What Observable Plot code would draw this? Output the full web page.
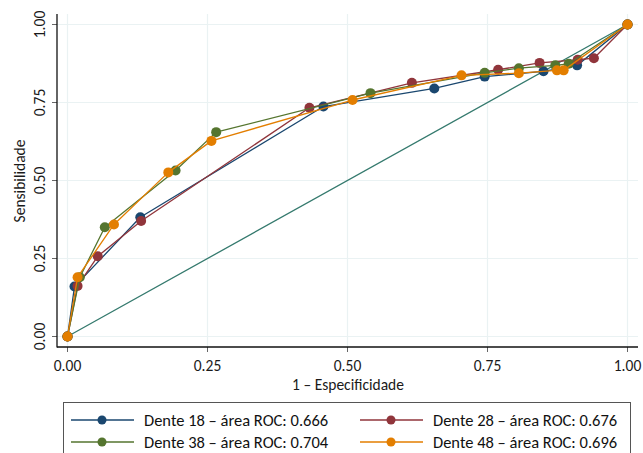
<!DOCTYPE html>
<html><head><meta charset="utf-8">
<script src="https://cdn.jsdelivr.net/npm/d3@7"></script>
<script src="https://cdn.jsdelivr.net/npm/@observablehq/plot@0.6"></script>
<style>
body{margin:0;background:#fff;font-family:Carlito,Lato,sans-serif;}
#wrap{position:relative;width:643px;height:453px;overflow:hidden;background:#fff;}
#legend{position:absolute;left:63px;top:402px;width:568px;height:62px;border:1px solid #555;box-sizing:border-box;}
.item{position:absolute;height:20px;font-size:16.5px;color:#111;white-space:nowrap;}
.item svg{position:absolute;left:0;top:0;}
.item span{position:absolute;left:73px;top:0px;line-height:20px;}
</style></head><body><div id="wrap"></div>
<script>
// ---- data ----
const seriesNames = [
  "Dente 18 – área ROC: 0.666",
  "Dente 28 – área ROC: 0.676",
  "Dente 38 – área ROC: 0.704",
  "Dente 48 – área ROC: 0.696"
];
const seriesColors = ["#1a476f", "#90353b", "#55752f", "#e37e00"];
const diagColor = "#357a6e";

const fpr18  = [0, 0.0125, 0.130, 0.457, 0.655, 0.745, 0.850, 0.910, 1];
const sens18 = [0, 0.160, 0.382, 0.737, 0.795, 0.833, 0.850, 0.869, 1];

const fpr28  = [0, 0.018, 0.054, 0.1315, 0.432, 0.615, 0.769, 0.843, 0.911, 0.940, 1];
const sens28 = [0, 0.162, 0.257, 0.370, 0.733, 0.813, 0.855, 0.877, 0.887, 0.892, 1];

const fpr38  = [0, 0.022, 0.0666, 0.193, 0.2655, 0.541, 0.745, 0.806, 0.871, 0.895, 1];
const sens38 = [0, 0.190, 0.350, 0.532, 0.655, 0.780, 0.845, 0.860, 0.869, 0.874, 1];

const fpr48  = [0, 0.018, 0.083, 0.180, 0.257, 0.509, 0.7036, 0.806, 0.874, 0.886, 1];
const sens48 = [0, 0.190, 0.359, 0.526, 0.627, 0.758, 0.837, 0.844, 0.853, 0.853, 1];

const diagX = [0, 1];
const diagY = [0, 1];

const tickValues = [0, 0.25, 0.5, 0.75, 1];
const xLabel = "1 – Especificidade";
const yLabel = "Sensibilidade";

// ---- build ----
const allX = [fpr18, fpr28, fpr38, fpr48];
const allY = [sens18, sens28, sens38, sens48];
const rows = [];
allX.forEach((xs, s) => xs.forEach((x, i) => rows.push({series: seriesNames[s], x, y: allY[s][i]})));
const diag = diagX.map((x, i) => ({x, y: diagY[i]}));

const W = 643, H = 395, mL = 57, mR = 5, mT = 14, mB = 48;
const fmt = d => d.toFixed(2);
const FS = 15.5;

const marks = [
  Plot.gridX(tickValues, {stroke: "#eaf2f3", strokeOpacity: 1, strokeWidth: 1.2}),
  Plot.gridY(tickValues, {stroke: "#eaf2f3", strokeOpacity: 1, strokeWidth: 1.2}),
  Plot.axisX(tickValues, {tickFormat: fmt, tickSize: 5, stroke: "#666", tickPadding: 7, fontSize: FS,
    label: xLabel, labelAnchor: "center", labelArrow: "none", labelOffset: 42}),
  Plot.axisY(tickValues, {tickFormat: fmt, tickSize: 5, stroke: "#666", tickRotate: -90, tickPadding: 8, fontSize: FS,
    label: yLabel, labelAnchor: "center", labelArrow: "none", labelOffset: 44}),
  Plot.line(diag, {x: "x", y: "y", stroke: diagColor, strokeWidth: 1.3})
];
seriesNames.forEach((name, s) => {
  const d = rows.filter(r => r.series === name);
  marks.push(Plot.line(d, {x: "x", y: "y", stroke: seriesColors[s], strokeWidth: 1.3}));
  marks.push(Plot.dot(d, {x: "x", y: "y", fill: seriesColors[s], r: 5}));
});

const plot = Plot.plot({
  width: W, height: H,
  marginLeft: mL, marginRight: mR, marginTop: mT, marginBottom: mB,
  insetLeft: 10, insetRight: 11, insetTop: 10, insetBottom: 11,
  style: {fontFamily: "Carlito, Lato, sans-serif", fontSize: FS + "px", color: "#1a1a1a", background: "#fff", overflow: "visible"},
  x: {domain: [0, 1]},
  y: {domain: [0, 1]},
  marks
});

// axis lines (left and bottom frame)
const svg = d3.select(plot);
svg.selectAll("text").style("font-size", FS + "px").attr("font-size", FS);
svg.append("line").attr("x1", mL).attr("x2", mL).attr("y1", mT).attr("y2", H - mB + 0.5).attr("stroke", "#111").attr("stroke-width", 1.3);
svg.append("line").attr("x1", mL).attr("x2", W - mR).attr("y1", H - mB).attr("y2", H - mB).attr("stroke", "#111").attr("stroke-width", 1.3);

const wrap = document.getElementById("wrap");
wrap.appendChild(plot);

// legend
const legend = document.createElement("div");
legend.id = "legend";
const pos = [[7, 7], [296, 7], [7, 29], [296, 29]];
seriesNames.forEach((name, s) => {
  const it = document.createElement("div");
  it.className = "item";
  it.style.left = pos[s][0] + "px";
  it.style.top = pos[s][1] + "px";
  it.innerHTML = `<svg width="64" height="20"><line x1="0" x2="63" y1="10" y2="10" stroke="${seriesColors[s]}" stroke-width="1.5"/><circle cx="31" cy="10" r="4.5" fill="${seriesColors[s]}"/></svg><span>${name}</span>`;
  legend.appendChild(it);
});
wrap.appendChild(legend);
</script></body></html>
